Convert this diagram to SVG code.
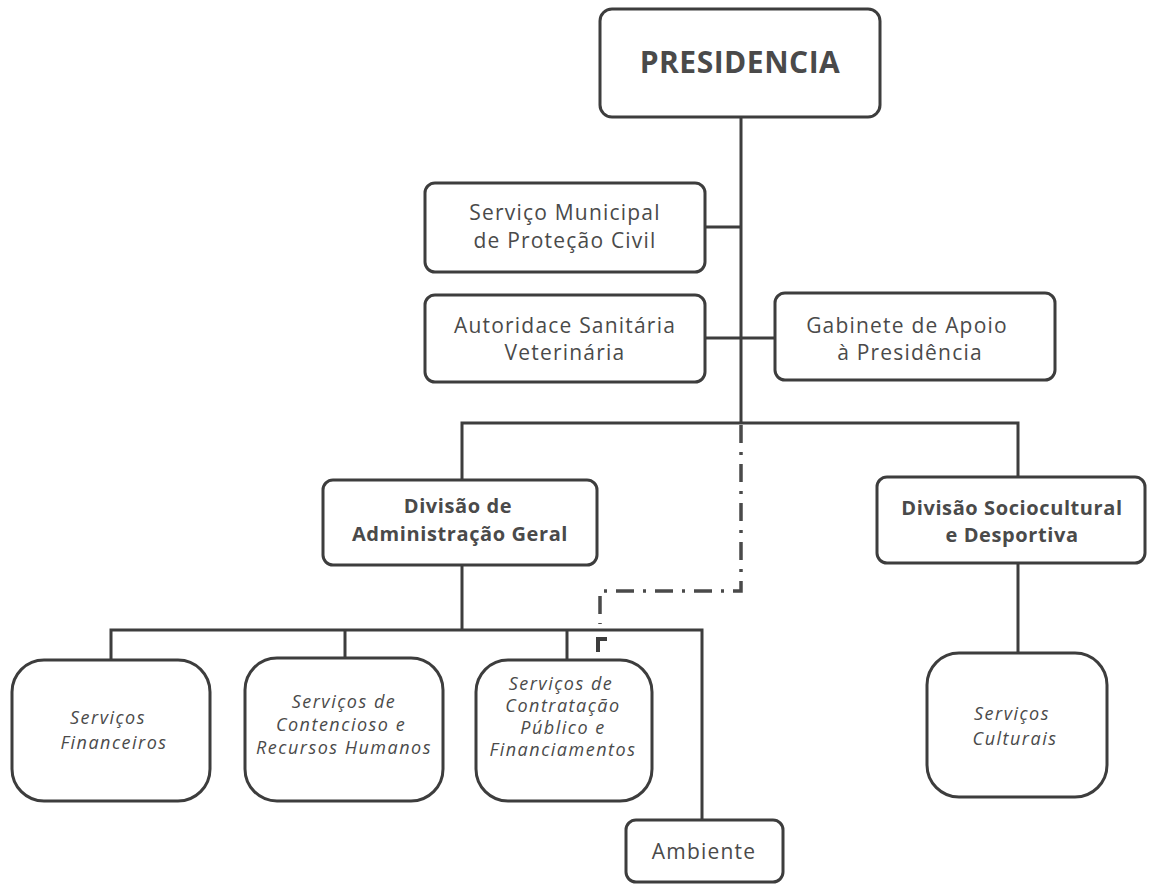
<svg xmlns="http://www.w3.org/2000/svg" width="1149" height="885" viewBox="0 0 1149 885">
<style>
.box{fill:#fff;stroke:#3d3d3d;stroke-width:3}
.ln{fill:none;stroke:#3d3d3d;stroke-width:3}
.dash{fill:none;stroke:#4a4a4a;stroke-width:3.5;stroke-dasharray:18 9 3 9}
.t{font-family:"Open Sans","Liberation Sans",sans-serif;fill:#4a4a4a;text-anchor:middle}
.reg{font-size:21px;letter-spacing:1.2px}
.bold{font-size:20px;font-weight:bold;letter-spacing:0.6px}
.it{font-size:18px;font-style:italic;letter-spacing:1.5px}
</style>
<rect width="1149" height="885" fill="#fff"/>
<g id="connectors">
<path class="ln" d="M741,117 V423"/>
<path class="ln" d="M705,227 H741"/>
<path class="ln" d="M705,338 H775"/>
<path class="ln" d="M462,480 V423 H1018 V477"/>
<path class="ln" d="M462,565 V630"/>
<path class="ln" d="M111,660 V630 H702 V820"/>
<path class="ln" d="M345,658 V630"/>
<path class="ln" d="M567,660 V630"/>
<path class="ln" d="M1018,563 V653"/>
<path class="dash" d="M741,425 V591 H600 V624"/>
<path class="ln" d="M598,652 V639 H607" style="stroke-width:4"/>
</g>
<g id="presidencia">
<rect class="box" x="600" y="9" width="280" height="108" rx="12"/>
<text class="t" x="740" y="73" style="font-size:30px;font-weight:bold;letter-spacing:0.5px">PRESIDENCIA</text>
</g>
<g id="protecao-civil">
<rect class="box" x="425" y="183" width="280" height="89" rx="10"/>
<text class="t reg" x="565" y="220">Serviço Municipal</text>
<text class="t reg" x="565" y="248">de Proteção Civil</text>
</g>
<g id="autoridade-sanitaria">
<rect class="box" x="425" y="295" width="280" height="87" rx="10"/>
<text class="t reg" x="565" y="333">Autoridace Sanitária</text>
<text class="t reg" x="565" y="360">Veterinária</text>
</g>
<g id="gabinete">
<rect class="box" x="775" y="293" width="280" height="87" rx="10"/>
<text class="t reg" x="907" y="333">Gabinete de Apoio</text>
<text class="t reg" x="910" y="360">à Presidência</text>
</g>
<g id="divisao-admin">
<rect class="box" x="323" y="480" width="274" height="85" rx="10"/>
<text class="t bold" x="458" y="513">Divisão de</text>
<text class="t bold" x="460" y="541">Administração Geral</text>
</g>
<g id="divisao-socio">
<rect class="box" x="877" y="477" width="268" height="86" rx="10"/>
<text class="t bold" x="1012" y="515">Divisão Sociocultural</text>
<text class="t bold" x="1012" y="542">e Desportiva</text>
</g>
<g id="servicos-financeiros">
<rect class="box" x="12" y="660" width="198" height="141" rx="32"/>
<text class="t it" x="108" y="724">Serviços</text>
<text class="t it" x="114" y="749">Financeiros</text>
</g>
<g id="servicos-contencioso">
<rect class="box" x="245" y="658" width="198" height="143" rx="32"/>
<text class="t it" x="344" y="708">Serviços de</text>
<text class="t it" x="341" y="731">Contencioso e</text>
<text class="t it" x="344" y="754">Recursos Humanos</text>
</g>
<g id="servicos-contratacao">
<rect class="box" x="476" y="660" width="176" height="141" rx="32"/>
<text class="t it" x="561" y="690">Serviços de</text>
<text class="t it" x="563" y="712">Contratação</text>
<text class="t it" x="563" y="734">Público e</text>
<text class="t it" x="563" y="756">Financiamentos</text>
</g>
<g id="servicos-culturais">
<rect class="box" x="927" y="653" width="180" height="144" rx="32"/>
<text class="t it" x="1012" y="720">Serviços</text>
<text class="t it" x="1015" y="745">Culturais</text>
</g>
<g id="ambiente">
<rect class="box" x="626" y="820" width="157" height="62" rx="10"/>
<text class="t reg" x="704" y="859">Ambiente</text>
</g>
</svg>
